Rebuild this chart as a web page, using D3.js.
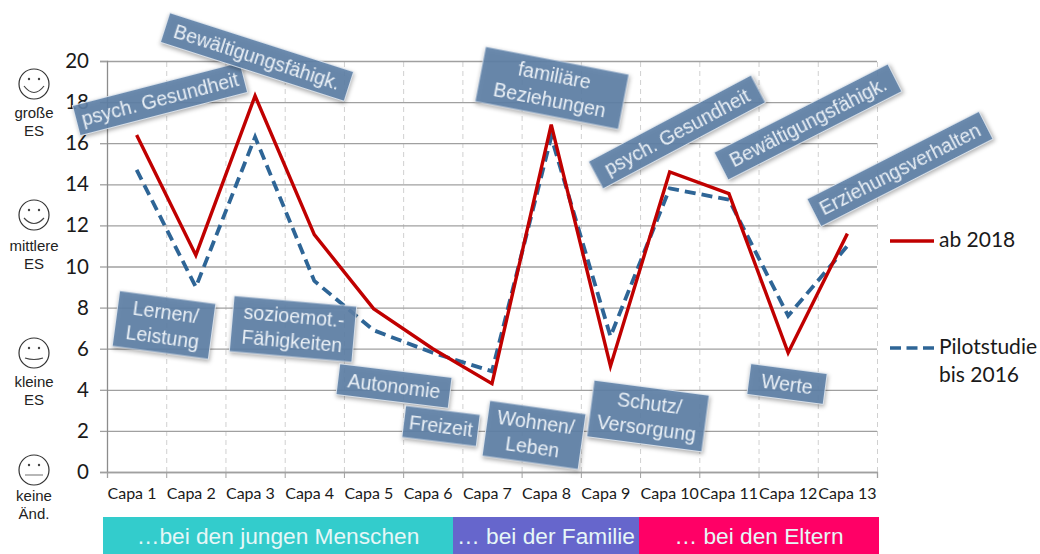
<!DOCTYPE html>
<html lang="de">
<head>
<meta charset="UTF-8">
<title>Capa Wirkungen</title>
<script src="https://d3js.org/d3.v7.min.js"></script>
<style>
  html, body { margin: 0; padding: 0; background: #fff; }
  svg { display: block; }
  .box { filter: drop-shadow(1px 2px 2px rgba(0,0,0,.35)); }
</style>
</head>
<body>
<div id="chart"></div>
<script>
// data
var categories = ["Capa 1","Capa 2","Capa 3","Capa 4","Capa 5","Capa 6","Capa 7","Capa 8","Capa 9","Capa 10","Capa 11","Capa 12","Capa 13"];
var ab2018 = [16.4,10.55,18.3,11.55,7.95,6.0,4.3,16.9,5.15,14.6,13.55,5.8,11.6];
var pilot = [14.7,9.0,16.3,9.3,6.9,5.8,4.9,16.3,6.6,13.8,13.25,7.6,11.0];
var yTicks = [0,2,4,6,8,10,12,14,16,18,20];
var boxTexts = [
  ["psych. Gesundheit"], ["Bewältigungsfähigk."], ["Lernen/","Leistung"], ["sozioemot.-","Fähigkeiten"],
  ["Autonomie"], ["Freizeit"], ["Wohnen/","Leben"], ["familiäre","Beziehungen"], ["Schutz/","Versorgung"],
  ["psych. Gesundheit"], ["Bewältigungsfähigk."], ["Werte"], ["Erziehungsverhalten"]
];
var groupNames = ["…bei den jungen Menschen","… bei der Familie","… bei den Eltern"];
var faceLabels = [["große","ES"],["mittlere","ES"],["kleine","ES"],["keine","Änd."]];
var legendNames = [["ab 2018"],["Pilotstudie","bis 2016"]];

// layout
var boxLayout = [
  {cx:160,cy:99,w:173,h:31,a:-14.5},{cx:257,cy:57,w:193,h:31,a:17.8},{cx:164,cy:325,w:97,h:56,a:7.7},
  {cx:293,cy:329,w:123,h:56,a:5},{cx:394,cy:386,w:113,h:31,a:7},{cx:441,cy:426,w:75,h:32,a:7},
  {cx:534,cy:435,w:97,h:56,a:8},{cx:552,cy:88,w:146,h:56,a:11},{cx:648,cy:416,w:116,h:57,a:7.5},
  {cx:677,cy:132,w:184,h:31,a:-28},{cx:808,cy:122,w:195,h:31,a:-27},{cx:787,cy:384,w:77,h:31,a:7.5},
  {cx:900,cy:169,w:193,h:31,a:-27}
];
var groupEdges = [103,453,639,879];
var groupColors = ["#33cccc","#6666cc","#ff0066"];
var faceY = [84,215,353,470];
var faceTextY = [34,36,34,31];
var faceMouth = [
  "M-10,2 Q0,15 10,2", "M-10,3 Q0,14 10,3", "M-9,5 Q0,8 9,5", "M-9,5 L9,5"
];
var plotLeft = 107, plotRight = 877, plotTop = 61, plotBottom = 472;
var red = "#c00000", blue = "#2e6596";

var svg = d3.select("#chart").append("svg").attr("width",1040).attr("height",554);

var x = d3.scaleBand().domain(categories).range([plotLeft,plotRight]);
var xEdge = d3.scaleLinear().domain([0,13]).range([plotLeft,plotRight]);
var y = d3.scaleLinear().domain([0,20]).range([plotBottom,plotTop]);

// vertical dashed gridlines
var xGrid = svg.append("g").attr("transform","translate(0,"+plotBottom+")")
  .call(d3.axisBottom(xEdge).ticks(13).tickSize(-(plotBottom-plotTop)).tickFormat(""));
xGrid.select(".domain").remove();
xGrid.selectAll("line").attr("stroke","#d0d0d0").attr("stroke-dasharray","5,4");

// horizontal gridlines
var yGrid = svg.append("g").attr("transform","translate("+plotLeft+",0)")
  .call(d3.axisLeft(y).tickValues(yTicks).tickSize(-(plotRight-plotLeft)).tickFormat(""));
yGrid.select(".domain").remove();
yGrid.selectAll("line").attr("stroke","#a0a0a0").attr("stroke-width",1.3);

// axes
var yAxis = svg.append("g").attr("transform","translate("+plotLeft+",0)")
  .call(d3.axisLeft(y).tickValues(yTicks).tickSize(7).tickPadding(11));
yAxis.select(".domain").attr("stroke","#8c8c8c").attr("stroke-width",1.3);
yAxis.selectAll("line").attr("stroke","#a0a0a0").attr("stroke-width",1.3);
yAxis.selectAll("text").attr("font-family","Lato").attr("font-size",20.5).attr("fill","#1a1a1a");

var xTickMarks = svg.append("g").attr("transform","translate(0,"+plotBottom+")")
  .call(d3.axisBottom(xEdge).ticks(13).tickSize(6).tickFormat(""));
xTickMarks.select(".domain").attr("stroke","#a0a0a0").attr("stroke-width",1.3);
xTickMarks.selectAll("line").attr("stroke","#a0a0a0");

// labels start at the left edge of their slot, the wide ones touch the next one
var xAxis = svg.append("g").attr("transform","translate(0,"+plotBottom+")")
  .call(d3.axisBottom(x).tickSize(0).tickPadding(16));
xAxis.select(".domain").remove();
xAxis.selectAll("text").attr("font-family","Lato").attr("font-size",16).attr("fill","#1a1a1a")
  .attr("text-anchor","start").attr("x",-x.bandwidth()/2+0.5);

// series
var line = d3.line().x(function(d,i){ return x(categories[i]) + x.bandwidth()/2; }).y(function(d){ return y(d); });
svg.append("path").datum(pilot).attr("d",line).attr("fill","none")
  .attr("stroke",blue).attr("stroke-width",3.8).attr("stroke-dasharray","11,6");
svg.append("path").datum(ab2018).attr("d",line).attr("fill","none")
  .attr("stroke",red).attr("stroke-width",3.4).attr("stroke-linejoin","miter");

// rotated annotation boxes
var boxes = svg.selectAll("g.box").data(boxTexts).enter().append("g").attr("class","box")
  .attr("transform",function(d,i){ var b = boxLayout[i]; return "translate("+b.cx+","+b.cy+") rotate("+b.a+")"; });
boxes.append("rect")
  .attr("x",function(d,i){ return -boxLayout[i].w/2; })
  .attr("y",function(d,i){ return -boxLayout[i].h/2; })
  .attr("width",function(d,i){ return boxLayout[i].w; })
  .attr("height",function(d,i){ return boxLayout[i].h; })
  .attr("fill","#5f82a8").attr("fill-opacity",.9).attr("stroke","#e8eef4").attr("stroke-width",.8);
boxes.each(function(d){
  var g = d3.select(this);
  d.forEach(function(t,j){
    g.append("text").text(t)
      .attr("text-anchor","middle").attr("dy","0.35em")
      .attr("y",(j-(d.length-1)/2)*25)
      .attr("font-family","Liberation Sans").attr("font-size",19.5)
      .attr("fill","#eaf0f6");
  });
});

// coloured bar under the axis
svg.selectAll("rect.group").data(groupNames).enter().append("rect").attr("class","group")
  .attr("x",function(d,i){ return groupEdges[i]; })
  .attr("width",function(d,i){ return groupEdges[i+1]-groupEdges[i]; })
  .attr("y",517).attr("height",37)
  .attr("fill",function(d,i){ return groupColors[i]; });
svg.selectAll("text.group").data(groupNames).enter().append("text").attr("class","group")
  .text(function(d){ return d; })
  .attr("x",function(d,i){ return (groupEdges[i]+groupEdges[i+1])/2; })
  .attr("y",544).attr("text-anchor","middle")
  .attr("font-family","Liberation Sans").attr("font-size",22.7).attr("fill","#e6f7f7");

// smileys on the left
var faces = svg.selectAll("g.face").data(faceLabels).enter().append("g").attr("class","face")
  .attr("transform",function(d,i){ return "translate(34,"+faceY[i]+")"; });
faces.append("circle").attr("r",15).attr("fill","none").attr("stroke","#333").attr("stroke-width",1.2);
faces.each(function(d,i){
  var g = d3.select(this);
  [-5,5].forEach(function(dx){ g.append("circle").attr("cx",dx).attr("cy",-5).attr("r",1.2).attr("fill","#444"); });
  g.append("path").attr("d",faceMouth[i]).attr("fill","none")
    .attr("stroke",i==3?"#888":"#444").attr("stroke-width",1.2);
  d.forEach(function(t,j){
    g.append("text").text(t).attr("text-anchor","middle")
      .attr("y",faceTextY[i]+j*18)
      .attr("font-family","Liberation Sans").attr("font-size",15).attr("fill","#222");
  });
});

// legend
var legendY = [241,348];
var legend = svg.selectAll("g.legend").data(legendNames).enter().append("g").attr("class","legend")
  .attr("transform",function(d,i){ return "translate(0,"+legendY[i]+")"; });
legend.append("line").attr("x1",890).attr("x2",934).attr("y1",0).attr("y2",0)
  .attr("stroke",function(d,i){ return i==0?red:blue; }).attr("stroke-width",3.4)
  .attr("stroke-dasharray",function(d,i){ return i==0?null:"11,5.5"; });
legend.each(function(d){
  var g = d3.select(this);
  d.forEach(function(t,j){
    g.append("text").text(t).attr("x",939).attr("y",6+j*28)
      .attr("font-family","Lato").attr("font-size",21).attr("fill","#1a1a1a");
  });
});
</script>
</body>
</html>
